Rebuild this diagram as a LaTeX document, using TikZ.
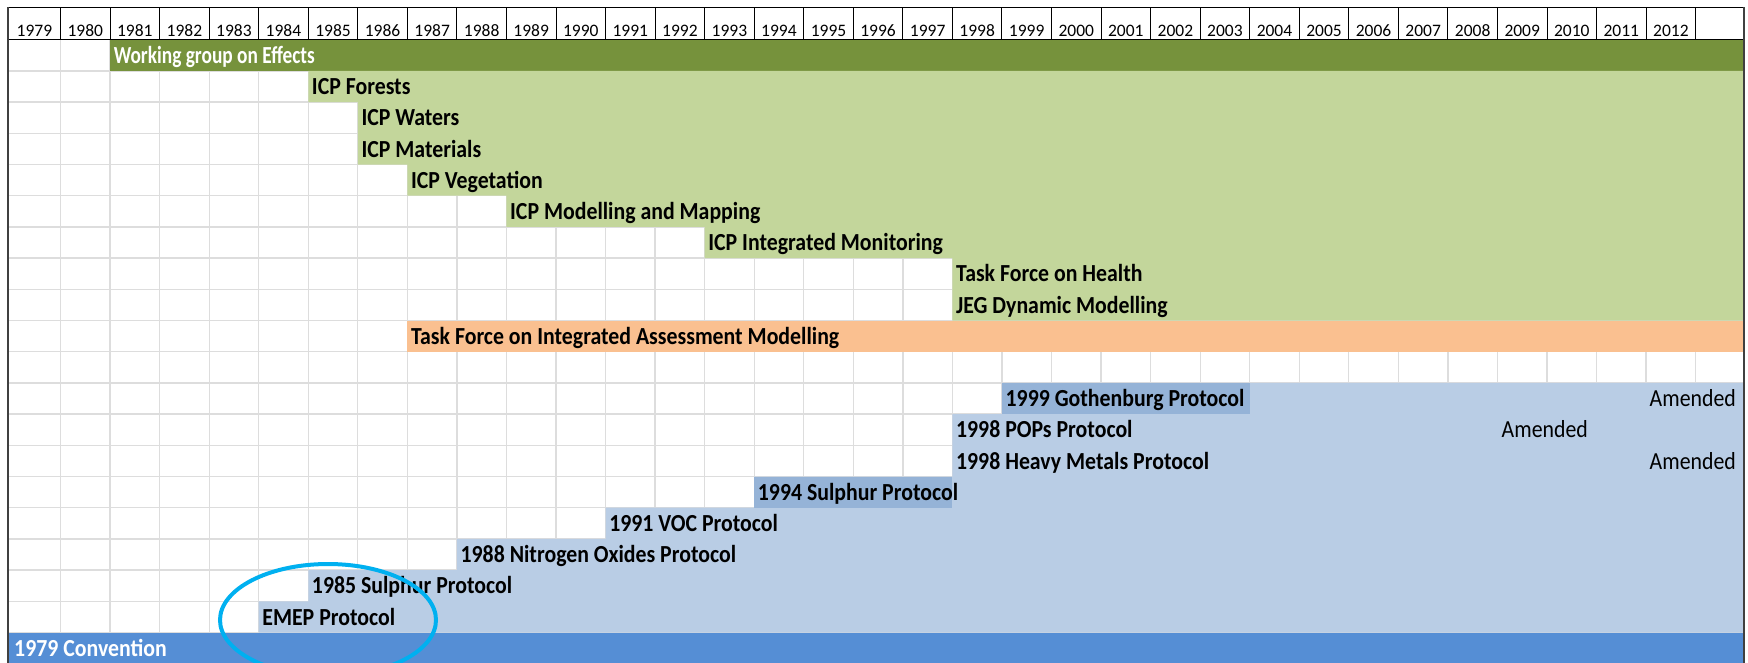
\documentclass[tikz,border=0pt]{standalone}
\usepackage{fontspec}
\setmainfont{Carlito}
\definecolor{wgegreen}{HTML}{76923C}
\definecolor{icpgreen}{HTML}{C3D69B}
\definecolor{tforange}{HTML}{FAC090}
\definecolor{protblue}{HTML}{B9CDE5}
\definecolor{hiblue}{HTML}{95B3D7}
\definecolor{convblue}{HTML}{558ED5}
\definecolor{gridgray}{HTML}{DDDDDD}
\definecolor{framegray}{HTML}{404040}
\definecolor{ringcyan}{HTML}{00B0F0}
% left edge of column #1 (1979 = 0) and top of row #1 (header = 0)
\newcommand\cx[1]{(60.5+(#1-1)*49.55)}
\newcommand\ry[1]{(39.7+(#1-1)*31.2)}
\newcommand\sx[1]{\scalebox{0.89}[1]{#1}}
\newcommand\lblfont{\fontsize{24.5}{24.5}\selectfont\bfseries}
\newcommand\amdfont{\fontsize{24.5}{24.5}\selectfont}
\newcommand\hdrfont{\fontsize{17.5}{17.5}\selectfont}
\tikzset{
  lbl/.style={anchor=base west, inner sep=0pt, font=\lblfont, text=black},
  wlbl/.style={lbl, text=white},
  amd/.style={anchor=base east, inner sep=0pt, font=\amdfont, text=black},
  hdr/.style={anchor=base, inner sep=0pt, font=\hdrfont, text=black},
  gridline/.style={draw=gridgray, line width=1.3pt},
  hdrline/.style={draw=black, line width=1pt},
  frameline/.style={draw=framegray, line width=2pt},
  ring/.style={draw=ringcyan, line width=4pt},
}
\begin{document}
\begin{tikzpicture}[x=1pt,y=-1pt]
\clip (0,0) rectangle (1748,662);
\fill[white] (0,0) rectangle (1748,662);
% grid
\foreach \k in {1,...,34} \draw[gridline] ({\cx{\k}},{\ry{1}}) -- ({\cx{\k}},664);
\foreach \r in {2,...,20} \draw[gridline] (8.4,{\ry{\r}}) -- (1743,{\ry{\r}});
% Working group on Effects
\fill[wgegreen] ({\cx{2}},{\ry{1}}) rectangle (1743,{\ry{2}});
% ICP staircase
\fill[icpgreen] (1743,{\ry{2}}) -- ({\cx{6}},{\ry{2}}) -- ({\cx{6}},{\ry{3}}) -- ({\cx{7}},{\ry{3}})
  -- ({\cx{7}},{\ry{5}}) -- ({\cx{8}},{\ry{5}}) -- ({\cx{8}},{\ry{6}}) -- ({\cx{10}},{\ry{6}})
  -- ({\cx{10}},{\ry{7}}) -- ({\cx{14}},{\ry{7}}) -- ({\cx{14}},{\ry{8}}) -- ({\cx{19}},{\ry{8}})
  -- ({\cx{19}},{\ry{10}}) -- (1743,{\ry{10}}) -- cycle;
% TFIAM
\fill[tforange] ({\cx{8}},{\ry{10}}) rectangle (1743,{\ry{11}});
% protocol staircase
\fill[protblue] (1743,{\ry{12}}) -- ({\cx{20}},{\ry{12}}) -- ({\cx{20}},{\ry{13}}) -- ({\cx{19}},{\ry{13}})
  -- ({\cx{19}},{\ry{15}}) -- ({\cx{15}},{\ry{15}}) -- ({\cx{15}},{\ry{16}}) -- ({\cx{12}},{\ry{16}})
  -- ({\cx{12}},{\ry{17}}) -- ({\cx{9}},{\ry{17}}) -- ({\cx{9}},{\ry{18}}) -- ({\cx{6}},{\ry{18}})
  -- ({\cx{6}},{\ry{19}}) -- ({\cx{5}},{\ry{19}}) -- ({\cx{5}},{\ry{20}}) -- (1743,{\ry{20}}) -- cycle;
\fill[hiblue] ({\cx{20}},{\ry{12}}) rectangle ({\cx{25}},{\ry{13}});
\fill[hiblue] ({\cx{15}},{\ry{15}}) rectangle ({\cx{19}},{\ry{16}});
% Convention
\fill[convblue] (8.4,{\ry{20}}) rectangle (1743,664);
% header
\fill[white] (8.4,7.8) rectangle (1743,{\ry{1}});
\draw[hdrline] (8.4,7.8) -- (1743,7.8);
\draw[hdrline] (8.4,{\ry{1}}) -- (1743,{\ry{1}});
\foreach \k in {1,...,34} \draw[hdrline] ({\cx{\k}},7.8) -- ({\cx{\k}},{\ry{1}});
\node[hdr] (h0) at (34.45,36) {1979};
\foreach \k in {1,...,33} {
  \pgfmathtruncatemacro\yr{1979+\k}
  \node[hdr] (h\k) at ({\cx{\k}+24.775},36) {\yr};
}
% frame
\draw[frameline] (8.4,7) -- (8.4,664);
\draw[frameline] (1743.5,7) -- (1743.5,664);
% labels
\node[wlbl] (wge) at ({\cx{2}+3.5},{\ry{2}-7.5}) {\scalebox{0.79}[1]{Working group on Effects}};
\node[lbl] (forests) at ({\cx{6}+3.5},{\ry{3}-7.5}) {\sx{ICP Forests}};
\node[lbl] (waters) at ({\cx{7}+3.5},{\ry{4}-7.5}) {\sx{ICP Waters}};
\node[lbl] (materials) at ({\cx{7}+3.5},{\ry{5}-7.5}) {\sx{ICP Materials}};
\node[lbl] (vegetation) at ({\cx{8}+3.5},{\ry{6}-7.5}) {\sx{ICP Vegetation}};
\node[lbl] (mm) at ({\cx{10}+3.5},{\ry{7}-7.5}) {\sx{ICP Modelling and Mapping}};
\node[lbl] (im) at ({\cx{14}+3.5},{\ry{8}-7.5}) {\sx{ICP Integrated Monitoring}};
\node[lbl] (health) at ({\cx{19}+3.5},{\ry{9}-7.5}) {\sx{Task Force on Health}};
\node[lbl] (jeg) at ({\cx{19}+3.5},{\ry{10}-7.5}) {\sx{JEG Dynamic Modelling}};
\node[lbl] (tfiam) at ({\cx{8}+3.5},{\ry{11}-7.5}) {\sx{Task Force on Integrated Assessment Modelling}};
\node[lbl] (goth) at ({\cx{20}+3.5},{\ry{13}-7.5}) {\sx{1999 Gothenburg Protocol}};
\node[lbl] (pops) at ({\cx{19}+3.5},{\ry{14}-7.5}) {\sx{1998 POPs Protocol}};
\node[lbl] (hm) at ({\cx{19}+3.5},{\ry{15}-7.5}) {\sx{1998 Heavy Metals Protocol}};
\node[lbl] (s94) at ({\cx{15}+3.5},{\ry{16}-7.5}) {\sx{1994 Sulphur Protocol}};
\node[lbl] (voc) at ({\cx{12}+3.5},{\ry{17}-7.5}) {\sx{1991 VOC Protocol}};
\node[lbl] (nox) at ({\cx{9}+3.5},{\ry{18}-7.5}) {\sx{1988 Nitrogen Oxides Protocol}};
\node[lbl] (s85) at ({\cx{6}+3.5},{\ry{19}-7.5}) {\sx{1985 Sulphur Protocol}};
\node[lbl] (emep) at ({\cx{5}+3.5},{\ry{20}-7.5}) {\sx{EMEP Protocol}};
\node[wlbl] (conv) at (14,{\ry{21}-7.5}) {\sx{1979 Convention}};
% amended
\node[amd] (amgoth) at (1736,{\ry{13}-7.5}) {\sx{Amended}};
\node[amd] (ampops) at (1588,{\ry{14}-7.5}) {\sx{Amended}};
\node[amd] (amhm) at (1736,{\ry{15}-7.5}) {\sx{Amended}};
% ring
\draw[ring] (328,620) ellipse [x radius=108, y radius=56];
\end{tikzpicture}
\end{document}
